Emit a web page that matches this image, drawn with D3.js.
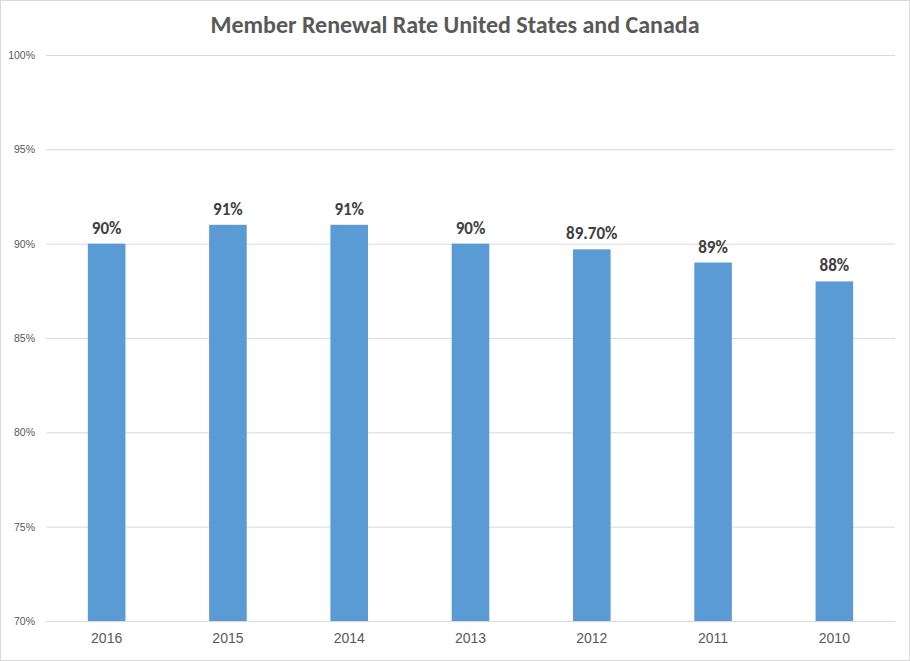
<!DOCTYPE html>
<html>
<head>
<meta charset="utf-8">
<script src="https://cdn.jsdelivr.net/npm/d3@7"></script>
<style>
  body { margin: 0; background: #fff; }
  svg { display: block; font-family: Calibri, Carlito, "Open Sans", sans-serif; }
</style>
</head>
<body>
<svg id="chart" width="910" height="661"></svg>
<script>
// chart data
const years = ["2016", "2015", "2014", "2013", "2012", "2011", "2010"];
const renewalRate = [90, 91, 91, 90, 89.7, 89, 88];
const rateLabels = ["90%", "91%", "91%", "90%", "89.70%", "89%", "88%"];
const yTicks = [70, 75, 80, 85, 90, 95, 100];

const width = 910, height = 661;
const margin = { top: 55, right: 15, bottom: 40, left: 46 };

const svg = d3.select("#chart");

// outer border
svg.append("rect")
    .attr("x", 0.5).attr("y", 0.5)
    .attr("width", width - 1).attr("height", height - 1)
    .attr("fill", "#fff")
    .attr("stroke", "#d9d9d9");

const x = d3.scaleBand()
    .domain(years)
    .range([margin.left, width - margin.right])
    .paddingInner(0.69)
    .paddingOuter(0.345);

const y = d3.scaleLinear()
    .domain([70, 100])
    .range([height - margin.bottom, margin.top]);

// gridlines + y labels
const yAxis = d3.axisLeft(y)
    .tickValues(yTicks)
    .tickSize(-(width - margin.left - margin.right))
    .tickPadding(11)
    .tickFormat(d => d + "%");

svg.append("g")
    .attr("transform", `translate(${margin.left},0)`)
    .call(yAxis)
    .call(g => g.select(".domain").remove())
    .call(g => g.selectAll(".tick line").attr("stroke", "#d9d9d9"))
    .call(g => g.selectAll(".tick text")
        .attr("fill", "#595959")
        .style("font-size", "10.5px"));

// bars
svg.append("g")
  .selectAll("rect")
  .data(renewalRate)
  .join("rect")
    .attr("x", (d, i) => x(years[i]))
    .attr("y", d => y(d))
    .attr("width", x.bandwidth())
    .attr("height", d => y(70) - y(d))
    .attr("fill", "#5b9bd5");

// x axis
svg.append("g")
    .attr("transform", `translate(0,${height - margin.bottom})`)
    .call(d3.axisBottom(x).tickSize(0).tickPadding(12))
    .call(g => g.select(".domain").attr("stroke", "#d9d9d9"))
    .call(g => g.selectAll(".tick text")
        .attr("fill", "#595959")
        .style("font-size", "14px"));

// value labels
svg.append("g")
  .selectAll("text")
  .data(renewalRate)
  .join("text")
    .attr("x", (d, i) => x(years[i]) + x.bandwidth() / 2)
    .attr("y", d => y(d) - 10)
    .attr("text-anchor", "middle")
    .attr("fill", "#404040")
    .style("font-size", "17px")
    .style("font-weight", "bold")
    .text((d, i) => rateLabels[i]);

// title
svg.append("text")
    .attr("x", width / 2)
    .attr("y", 33)
    .attr("text-anchor", "middle")
    .attr("fill", "#595959")
    .style("font-size", "24px")
    .style("font-weight", "bold")
    .text("Member Renewal Rate United States and Canada");
</script>
</body>
</html>
